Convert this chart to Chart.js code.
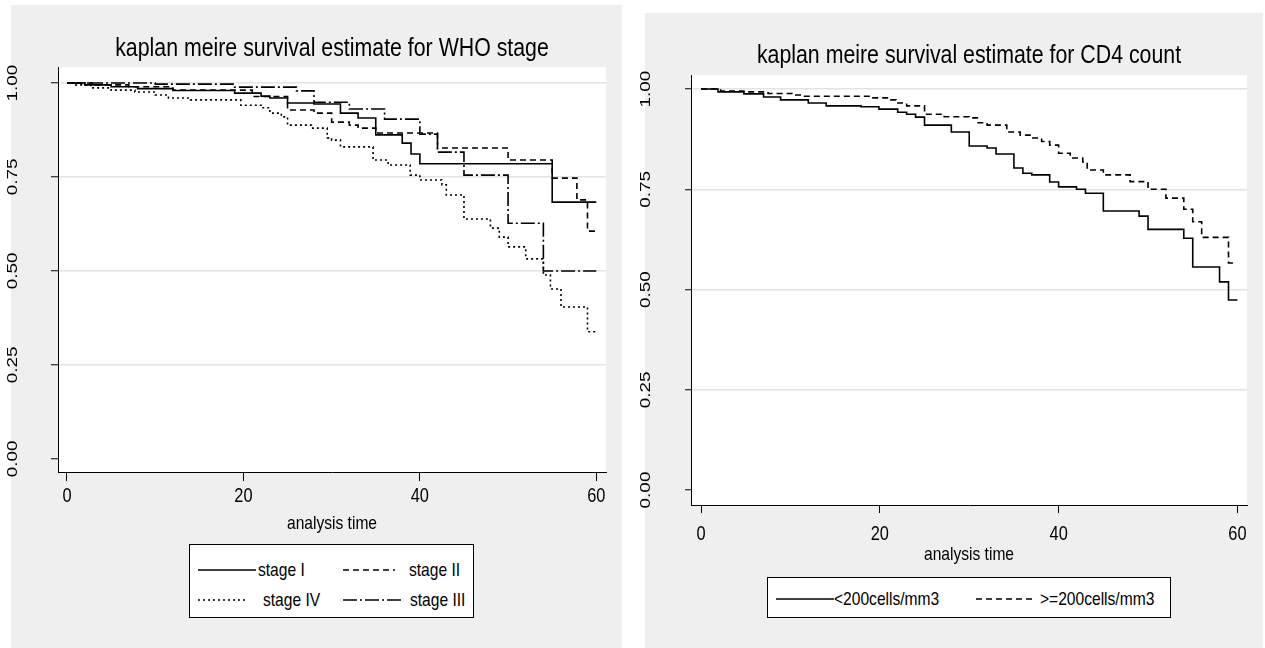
<!DOCTYPE html>
<html>
<head>
<meta charset="utf-8">
<script src="https://cdn.jsdelivr.net/npm/chart.js@4"></script>
<style>
body { margin: 0; background: #fff; width: 1265px; height: 648px; overflow: hidden; position: relative; font-family: "Liberation Sans", Arial, sans-serif; }
.panel { position: absolute; background: #efefef; }
canvas { position: absolute; top: 0; }
.legend { position: absolute; background: #fff; border: 1px solid #000; box-sizing: border-box; }
.legend svg { position: absolute; overflow: visible; }
.legend span { position: absolute; font-size: 19px; line-height: 22px; white-space: nowrap; transform: scaleX(0.82); transform-origin: 0 50%; color: #000; }
</style>
</head>
<body>
<div class="panel" style="left:11px;top:5px;width:611px;height:643px"></div>
<div class="panel" style="left:645px;top:13px;width:618px;height:635px"></div>
<canvas id="who" width="632" height="560" style="left:0"></canvas>
<canvas id="cd4" width="633" height="580" style="left:632px"></canvas>
<div class="legend" id="whoLegend" style="left:189px;top:544px;width:285px;height:74px"></div>
<div class="legend" id="cd4Legend" style="left:767px;top:577px;width:404px;height:41px"></div>

<script>
// ---- data (time in months, survival probability) ----
const xTicks = [0, 20, 40, 60];
const yTicks = [0, 0.25, 0.5, 0.75, 1];
const axisTitle = "analysis time";

// WHO stage
const stage1Time = [0, 2, 5, 8, 12, 19, 22, 23, 25, 28, 31, 33, 35, 38, 39, 40, 55, 60];
const stage1Surv = [1, 0.995, 0.99, 0.985, 0.98, 0.973, 0.965, 0.96, 0.947, 0.944, 0.92, 0.907, 0.862, 0.84, 0.811, 0.785, 0.683, 0.683];

const stage2Time = [0, 3, 7, 12, 21, 25, 28, 30, 32, 33, 35, 42, 50, 55, 57.8, 59, 60];
const stage2Surv = [1, 0.995, 0.99, 0.981, 0.964, 0.928, 0.92, 0.896, 0.888, 0.88, 0.867, 0.827, 0.795, 0.747, 0.689, 0.606, 0.606];

const stage3Time = [0, 10, 19, 26, 28, 32, 36, 40, 42, 45, 50, 54, 60];
const stage3Surv = [1, 0.997, 0.989, 0.979, 0.949, 0.931, 0.904, 0.864, 0.816, 0.755, 0.627, 0.5, 0.5];

const stage4Time = [0, 1, 2.7, 5, 7.7, 10, 11.5, 14, 19.7, 22, 23, 24.3, 25, 27.7, 29.5, 30, 31, 34.7, 36.4, 38.9, 40, 42.5, 43, 45, 48, 49, 50, 52, 54, 54.8, 56, 59, 60];
const stage4Surv = [1, 0.995, 0.987, 0.981, 0.976, 0.968, 0.96, 0.955, 0.941, 0.934, 0.92, 0.91, 0.888, 0.88, 0.854, 0.848, 0.83, 0.795, 0.782, 0.755, 0.742, 0.729, 0.702, 0.638, 0.614, 0.59, 0.564, 0.532, 0.489, 0.452, 0.404, 0.338, 0.338];

// CD4 count
const lowTime = [0, 1.9, 4.8, 7, 8.9, 12, 14, 17.9, 19.9, 22, 23, 24, 25, 28, 30, 32, 33, 35, 36, 37, 39, 40, 42, 43, 45, 49, 50, 54, 55, 58, 59, 60];
const lowSurv = [1, 0.993, 0.988, 0.98, 0.973, 0.965, 0.958, 0.956, 0.95, 0.942, 0.937, 0.93, 0.91, 0.893, 0.858, 0.853, 0.838, 0.803, 0.79, 0.786, 0.768, 0.756, 0.75, 0.74, 0.696, 0.683, 0.65, 0.628, 0.556, 0.519, 0.474, 0.474];

const highTime = [0, 2.2, 4.8, 7.5, 10.4, 11.2, 19, 21, 21.8, 23, 25, 27.2, 30, 31, 32, 34.2, 35.7, 36.8, 38.1, 39, 40, 41.3, 42.7, 43.2, 45, 48, 50, 52, 54, 55, 56, 59, 59.5];
const highSurv = [1, 0.995, 0.993, 0.989, 0.985, 0.982, 0.978, 0.973, 0.965, 0.958, 0.937, 0.931, 0.928, 0.916, 0.91, 0.893, 0.885, 0.878, 0.869, 0.86, 0.84, 0.828, 0.818, 0.798, 0.786, 0.769, 0.75, 0.728, 0.7, 0.669, 0.63, 0.566, 0.566];

// line patterns
const SOLID = [], DASH = [6, 4], DOT = [2, 3], DASHDOT = [14, 3, 2, 3];

function pts(t, s) { return t.map((v, i) => ({ x: v, y: s[i] })); }

function series(label, t, s, dash) {
  return { label: label, data: pts(t, s), borderDash: dash, borderColor: '#000', borderWidth: 1.6,
           stepped: true, pointRadius: 0, fill: false, borderCapStyle: 'butt' };
}

function narrowText(ctx, text, x, y, font, sx) {
  ctx.save();
  ctx.translate(x, y);
  ctx.scale(sx, 1);
  ctx.font = font;
  ctx.textAlign = 'center';
  ctx.textBaseline = 'alphabetic';
  ctx.fillText(text, 0, 0);
  ctx.restore();
}

// white plot region + Stata-like texts
const kmDecor = {
  id: 'kmDecor',
  beforeDraw(chart) {
    const a = chart.chartArea, ctx = chart.ctx;
    ctx.save();
    ctx.fillStyle = '#fff';
    ctx.fillRect(a.left, a.top, a.right - a.left, a.bottom - a.top);
    ctx.restore();
  },
  afterDraw(chart, args, o) {
    const ctx = chart.ctx, a = chart.chartArea, xs = chart.scales.x, ys = chart.scales.y;
    const cx = (a.left + a.right) / 2;
    ctx.save();
    ctx.fillStyle = '#000';
    narrowText(ctx, o.title, cx, o.titleY, '26px "Liberation Sans"', 0.82);
    xs.ticks.forEach(t => narrowText(ctx, String(t.value), xs.getPixelForValue(t.value), o.tickY, '21px "Liberation Sans"', 0.78));
    narrowText(ctx, axisTitle, cx, o.axisTitleY, '19px "Liberation Sans"', 0.82);
    ys.ticks.forEach(t => {
      ctx.save();
      ctx.translate(o.yLabelX, ys.getPixelForValue(t.value));
      ctx.rotate(-Math.PI / 2);
      ctx.scale(1.35, 1);
      ctx.font = '14px "Liberation Sans"';
      ctx.textAlign = 'center';
      ctx.textBaseline = 'alphabetic';
      ctx.fillText(t.value.toFixed(2), 0, 0);
      ctx.restore();
    });
    ctx.restore();
  }
};

function kmChart(id, datasets, g) {
  return new Chart(document.getElementById(id), {
    type: 'line',
    data: { datasets: datasets },
    plugins: [kmDecor],
    options: {
      responsive: false,
      animation: false,
      devicePixelRatio: 1,
      layout: { padding: { left: 0, right: g.padRight, top: g.padTop, bottom: 0 } },
      plugins: {
        legend: { display: false },
        tooltip: { enabled: false },
        kmDecor: { title: g.title, titleY: g.titleY, tickY: g.tickY, axisTitleY: g.axisTitleY, yLabelX: g.yLabelX }
      },
      scales: {
        x: {
          type: 'linear', min: g.xMin, max: g.xMax,
          afterBuildTicks: s => { s.ticks = xTicks.map(v => ({ value: v })); },
          afterFit: s => { s.height = g.xAxisH; },
          ticks: { display: false },
          grid: { drawOnChartArea: false, drawTicks: true, tickLength: g.xTickLen, tickColor: '#000', tickWidth: 1 },
          border: { display: true, color: '#000', width: 1 }
        },
        y: {
          type: 'linear', min: g.yMin, max: g.yMax,
          afterBuildTicks: s => { s.ticks = yTicks.map(v => ({ value: v })); },
          afterFit: s => { s.width = g.yAxisW; },
          ticks: { display: false },
          grid: {
            color: c => (c.tick && c.tick.value === 0) ? 'rgba(0,0,0,0)' : '#e3e3e3',
            lineWidth: 1.5,
            drawTicks: true, tickLength: g.yTickLen, tickColor: '#000', tickWidth: 1
          },
          border: { display: true, color: '#000', width: 1 }
        }
      }
    }
  });
}

const whoSets = [
  series('stage I', stage1Time, stage1Surv, SOLID),
  series('stage II', stage2Time, stage2Surv, DASH),
  series('stage IV', stage4Time, stage4Surv, DOT),
  series('stage III', stage3Time, stage3Surv, DASHDOT)
];
const cd4Sets = [
  series('<200cells/mm3', lowTime, lowSurv, SOLID),
  series('>=200cells/mm3', highTime, highSurv, DASH)
];

kmChart('who', whoSets, {
  title: 'kaplan meire survival estimate for WHO stage',
  xMin: -1.02, xMax: 61.1, yMin: -0.035, yMax: 1.0426,
  padRight: 26, padTop: 67, xAxisH: 88, yAxisW: 58, xTickLen: 9, yTickLen: 7,
  titleY: 56, tickY: 502, axisTitleY: 529, yLabelX: 16.5
});
kmChart('cd4', cd4Sets, {
  title: 'kaplan meire survival estimate for CD4 count',
  xMin: -1.12, xMax: 61.07, yMin: -0.0374, yMax: 1.035,
  padRight: 18, padTop: 75, xAxisH: 75, yAxisW: 59, xTickLen: 8, yTickLen: 6,
  titleY: 63, tickY: 540, axisTitleY: 560, yLabelX: 18
});

// legends in Stata style boxes
function legend(id, sets, slots) {
  const box = document.getElementById(id);
  sets.forEach((ds, i) => {
    const s = slots[i];
    const svg = document.createElementNS('http://www.w3.org/2000/svg', 'svg');
    svg.setAttribute('width', s.keyW);
    svg.setAttribute('height', 4);
    svg.style.left = s.x + 'px';
    svg.style.top = (s.y - 2) + 'px';
    const ln = document.createElementNS('http://www.w3.org/2000/svg', 'line');
    ln.setAttribute('x1', 0); ln.setAttribute('x2', s.keyW);
    ln.setAttribute('y1', 2); ln.setAttribute('y2', 2);
    ln.setAttribute('stroke', '#000');
    ln.setAttribute('stroke-width', 1.3);
    if (ds.borderDash.length) ln.setAttribute('stroke-dasharray', ds.borderDash.join(' '));
    svg.appendChild(ln);
    box.appendChild(svg);
    const sp = document.createElement('span');
    sp.textContent = ds.label;
    sp.style.left = s.tx + 'px';
    sp.style.top = (s.y - 11) + 'px';
    box.appendChild(sp);
  });
}
legend('whoLegend', whoSets, [
  { x: 8, y: 25, keyW: 58, tx: 68 },
  { x: 153, y: 25, keyW: 52, tx: 219 },
  { x: 8, y: 55, keyW: 50, tx: 73 },
  { x: 153, y: 55, keyW: 60, tx: 220 }
]);
legend('cd4Legend', cd4Sets, [
  { x: 8, y: 21, keyW: 58, tx: 66 },
  { x: 208, y: 21, keyW: 57, tx: 272 }
]);
</script>
</body>
</html>
